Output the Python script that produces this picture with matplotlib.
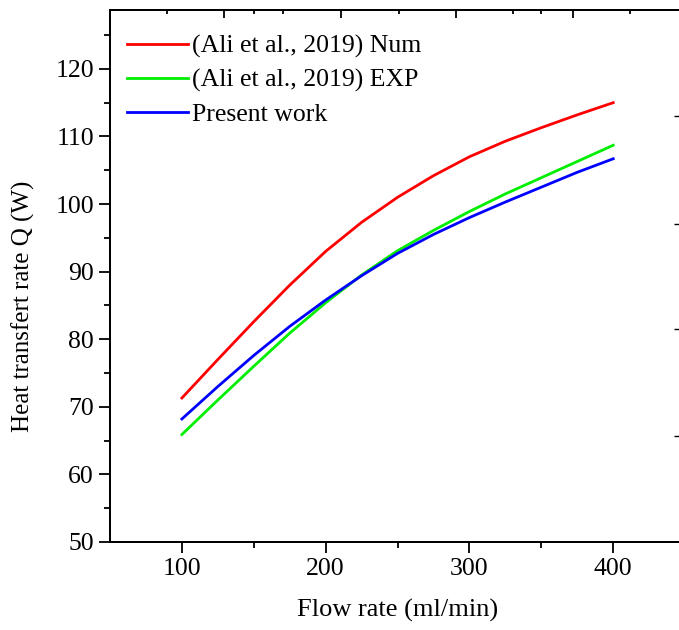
import matplotlib.pyplot as plt
import numpy as np

plt.rcParams['font.family'] = ['Liberation Serif', 'DejaVu Serif']

# Werte
flow = [100, 125, 150, 175, 200, 225, 250, 275, 300, 325, 350, 375, 400]
q_num = [71.3, 77.0, 82.6, 88.0, 93.0, 97.3, 101.0, 104.2, 107.0, 109.3, 111.3, 113.2, 115.0]
q_exp = [65.9, 71.0, 76.0, 80.9, 85.4, 89.5, 93.1, 96.1, 98.9, 101.5, 103.9, 106.3, 108.7]
q_present = [68.2, 73.0, 77.6, 81.9, 85.8, 89.4, 92.7, 95.5, 98.0, 100.3, 102.5, 104.7, 106.7]

labels = ["(Ali et al., 2019) Num", "(Ali et al., 2019) EXP", "Present work"]
colors = ["#ff0000", "#00ee00", "#0000ff"]

# Ticks der oben/rechts liegenden Achse (Ueberbleibsel im Original)
top_major = [129.6, 210.5, 290.8, 371.7]
top_minor = [89.8, 150, 170, 251, 330.5, 350, 412]
right_ticks = [65.7, 81.5, 97.1, 113.0]

fig = plt.figure(figsize=(6.79, 6.30), dpi=100)
ax = fig.add_axes([0.162, 0.1397, 0.847, 0.8443])

for q, lab, c in zip([q_num, q_exp, q_present], labels, colors):
    ax.plot(flow, q, color=c, lw=2.0, label=lab)

ax.set_xlim(50, 450)
ax.set_ylim(50, 128.7)
ax.set_xticks([100, 200, 300, 400])
ax.set_xticks([150, 250, 350], minor=True)
ax.set_yticks(np.arange(50, 121, 10))
ax.set_yticks(np.arange(55, 126, 10), minor=True)
ax.tick_params(which='major', direction='out', length=8, width=1.3, labelsize=18.5,
               top=False, right=False)
ax.tick_params(which='minor', direction='out', length=4, width=1.3,
               top=False, right=False)
for s in ax.spines.values():
    s.set_linewidth(1.4)

# obere Achse
ax2 = ax.twiny()
ax2.set_xlim(ax.get_xlim())
ax2.set_xticks(top_major)
ax2.set_xticks(top_minor, minor=True)
ax2.tick_params(which='major', direction='in', length=6, width=1.3, labeltop=False)
ax2.tick_params(which='minor', direction='in', length=3, width=1.3)

# rechte Achse
ax3 = ax.twinx()
ax3.set_ylim(ax.get_ylim())
ax3.set_yticks(right_ticks)
ax3.tick_params(direction='in', length=8, width=1.0, labelright=False)
for a in (ax2, ax3):
    for s in a.spines.values():
        s.set_linewidth(1.4)

ax.set_xlabel("Flow rate (ml/min)", fontsize=19, labelpad=14)
ax.set_ylabel("Heat transfert rate Q (W)", fontsize=18)
ax.yaxis.set_label_coords(-0.130, 0.444)

ax.legend(loc='upper left', frameon=False, fontsize=18.5, handlelength=2.4,
          handletextpad=0.15, labelspacing=0.42, borderaxespad=0.25,
          bbox_to_anchor=(0.0, 0.985))

fig.savefig("out.png", dpi=100)
